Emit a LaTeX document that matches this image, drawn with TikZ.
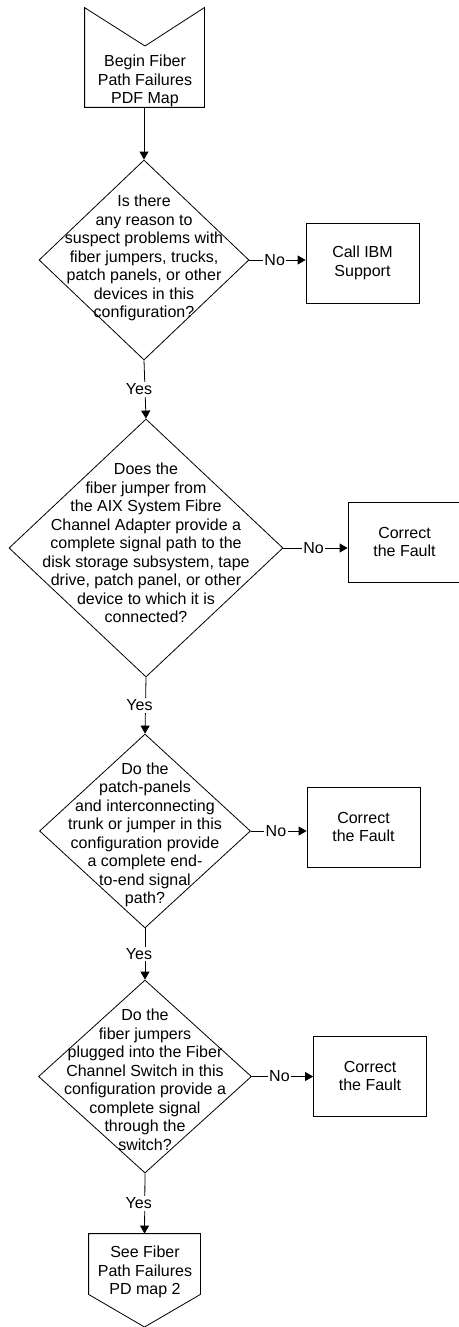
\documentclass[tikz,border=0pt]{standalone}
\usepackage{fontspec}
\setmainfont{Liberation Sans}
\usetikzlibrary{shapes.geometric,arrows.meta,calc}
\begin{document}
\begin{tikzpicture}[x=1pt,y=-1pt,
  line width=0.8pt,
  every node/.style={font=\fontsize{16}{18.5}\selectfont, text=black},
  dia/.style={diamond, draw, inner sep=0pt},
  txt/.style={align=center, inner sep=0pt},
  box/.style={draw, align=center, minimum width=113pt, minimum height=80pt, inner sep=0pt},
  hid/.style={inner sep=0pt, draw=none},
  arr/.style={-{Triangle[length=8pt,width=9pt]}},
  lab/.style={fill=white, inner sep=1.5pt}
]
\useasboundingbox (0,0) rectangle (458,1327);

% start shape
\node[hid, minimum width=119pt, minimum height=99pt] (start) at (144.5,57.5) {};
\draw (start.north west) -- (145,46) -- (start.north east) -- (start.south east) -- (start.south west) -- cycle;
\node[txt] (starttxt) at (145,81) {Begin Fiber\\Path Failures\\PDF Map};

% decision 1
\node[dia, minimum width=210pt, minimum height=200pt] (d1) at (144,260) {};
\node[txt] (t1) at (144,258) {Is there\\any reason to\\suspect problems with\\fiber jumpers, trucks,\\patch panels, or other\\devices in this\\configuration?};
\node[box] (b1) at (362.5,263) {Call IBM\\Support};

% decision 2
\node[dia, minimum width=274pt, minimum height=258pt] (d2) at (146,548) {};
\node[txt] (t2) at (146,543) {Does the\\fiber jumper from\\the AIX System Fibre\\Channel Adapter provide a\\complete signal path to the\\disk storage subsystem, tape\\drive, patch panel, or other\\device to which it is\\connected?};
\node[box] (b2) at (404.5,542) {Correct\\the Fault};

% decision 3
\node[dia, minimum width=211pt, minimum height=194pt] (d3) at (145,831) {};
\node[txt] (t3) at (145,835) {Do the\\patch-panels\\and interconnecting\\trunk or jumper in this\\configuration provide\\a complete end-\\to-end signal\\path?};
\node[box] (b3) at (363.5,827) {Correct\\the Fault};

% decision 4
\node[dia, minimum width=213pt, minimum height=193pt] (d4) at (145,1076.5) {};
\node[txt] (t4) at (145,1080) {Do the\\fiber jumpers\\plugged into the Fiber\\Channel Switch in this\\configuration provide a\\complete signal\\through the\\switch?};
\node[box] (b4) at (370,1076) {Correct\\the Fault};

% end shape
\node[hid, minimum width=111pt, minimum height=60pt] (end) at (144.5,1264) {};
\draw (end.south west) -- (end.north west) -- (end.north east) -- (end.south east) -- (144.5,1327) -- cycle;
\node[txt] (endtxt) at (145,1272) {See Fiber\\Path Failures\\PD map 2};

% connectors
\draw[arr] (d1.north |- start.south) -- (d1.north);
\draw[arr] (d1.east) -- node[lab, pos=0.45]{No} (d1.east -| b1.west);
\draw[arr] (d1.south) -- node[lab, xshift=-6pt]{Yes} (d2.north);
\draw[arr] (d2.east) -- node[lab, pos=0.47]{No} (d2.east -| b2.west);
\draw[arr] (d2.south) -- node[lab, xshift=-6pt]{Yes} (d3.north);
\draw[arr] (d3.east) -- node[lab, pos=0.45]{No} (d3.east -| b3.west);
\draw[arr] (d3.south) -- node[lab, xshift=-6pt]{Yes} (d4.north);
\draw[arr] (d4.east) -- node[lab, pos=0.45]{No} (d4.east -| b4.west);
\draw[arr] (d4.south) -- node[lab, xshift=-6pt]{Yes} (end.north);
\end{tikzpicture}
\end{document}
